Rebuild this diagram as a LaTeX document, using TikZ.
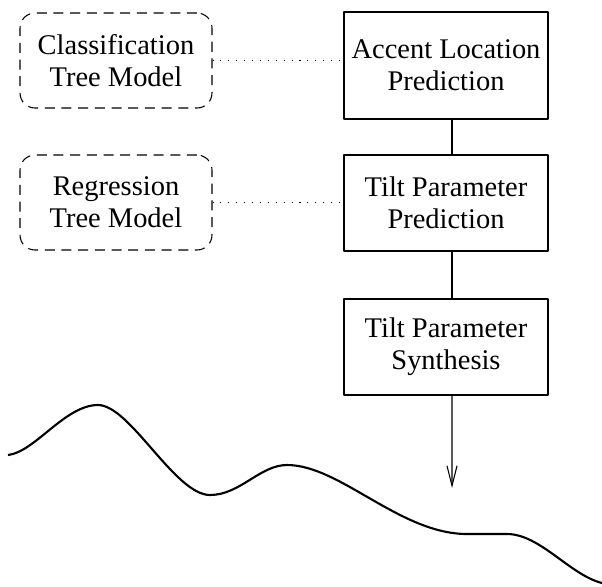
\documentclass[tikz,border=0pt]{standalone}
\usepackage{fontspec}
\setmainfont{Liberation Serif}
\usetikzlibrary{arrows.meta}

\begin{document}
\begin{tikzpicture}[x=0.02cm, y=-0.02cm, line cap=butt, line join=round,
  >={Straight Barb[length=11.4pt, width=5.7pt]},
  blockbox/.style={draw, line width=0.6pt, align=center, inner sep=0pt,
    minimum width=4.08cm, minimum height=1.92cm,
    font=\fontsize{16.2}{18.2}\selectfont},
  modelbox/.style={draw, line width=0.6pt, rounded corners=0.3cm, align=center,
    inner sep=0pt, minimum width=3.84cm, minimum height=1.9cm,
    dash pattern=on 5.7pt off 3.8pt, font=\fontsize{16.2}{18.2}\selectfont},
  link/.style={line width=0.6pt, dash pattern=on 0.6pt off 3.9pt},
  flow/.style={line width=0.6pt}]
  \useasboundingbox (0,0) rectangle (602,586);

  % processing chain
  \node[blockbox, minimum height=2.14cm] (acc) at (446,65.5) {Accent Location\\Prediction};
  \node[blockbox] (tpp) at (446,203) {Tilt Parameter\\Prediction};
  \node[blockbox] (tps) at (446,347) {Tilt Parameter\\Synthesis};

  % tree models
  \node[modelbox] (cls) at (116,60.5) {Classification\\Tree Model};
  \node[modelbox] (reg) at (116,202.5) {Regression\\Tree Model};

  \draw[link] (cls.east) -- (cls.east -| acc.west);
  \draw[link] (reg.east) -- (reg.east -| tpp.west);

  \draw[flow] ([xshift=0.12cm]acc.south) -- ([xshift=0.12cm]tpp.north);
  \draw[flow] ([xshift=0.12cm]tpp.south) -- ([xshift=0.12cm]tps.north);
  \coordinate (out) at (452,488);
  \draw[flow,->] ([xshift=0.12cm]tps.south) -- (out);

  % F0 contour
  \draw[line width=1.2pt] (8,455)
    .. controls (35,452) and (65,405) .. (98,405)
    .. controls (130,405) and (175,495) .. (210,495)
    .. controls (240,495) and (260,465) .. (287,465)
    .. controls (340,465) and (400,534) .. (467,534)
    -- (507,534)
    .. controls (540,534) and (570,575) .. (602,583);
\end{tikzpicture}
\end{document}
